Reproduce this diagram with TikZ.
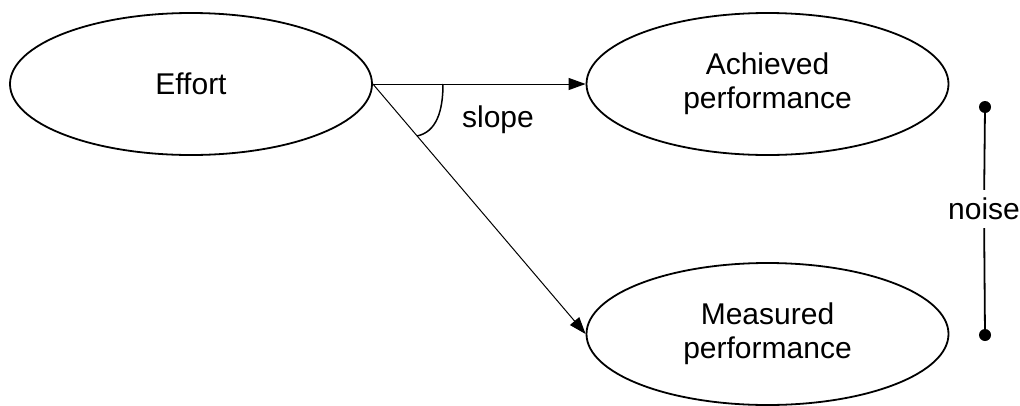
\documentclass[tikz,border=0pt]{standalone}
\usepackage{fontspec}
\setmainfont{Liberation Sans}
\usetikzlibrary{shapes.geometric,arrows.meta}
\begin{document}
\begin{tikzpicture}[x=1pt,y=-1pt,
  every node/.style={font=\fontsize{30}{34}\selectfont},
  oval/.style={draw, ellipse, line width=1.8pt, minimum width=362pt, minimum height=142pt, inner sep=0pt, align=center},
  arr/.style={-{Triangle[length=17pt,width=12pt]}, line width=1pt},
  dotnode/.style={circle, fill=black, inner sep=0pt, minimum size=12pt}]
\useasboundingbox (0,0) rectangle (1020,405);
\node[oval] (effort) at (191,84) {Effort};
\node[oval] (achieved) at (767.5,84) {Achieved\\performance};
\node[oval] (measured) at (767.5,334) {Measured\\performance};
\draw[arr] (effort.east) -- (achieved.west);
\draw[arr] (effort.east) -- (measured.west);
\coordinate (s1) at (443,84);
\coordinate (s2) at (417,136);
\draw[line width=1.5pt] (s1) .. controls (443,112) and (436,132) .. (s2);
\node (slope) at (498,120) {slope};
\node[dotnode] (n1) at (985,107) {};
\node[dotnode] (n2) at (985,335) {};
\node[inner sep=0pt, minimum height=38pt] (noise) at (984,209) {noise};
\draw[line width=1.8pt] (n1) -- (noise);
\draw[line width=1.8pt] (noise) -- (n2);
\end{tikzpicture}
\end{document}
